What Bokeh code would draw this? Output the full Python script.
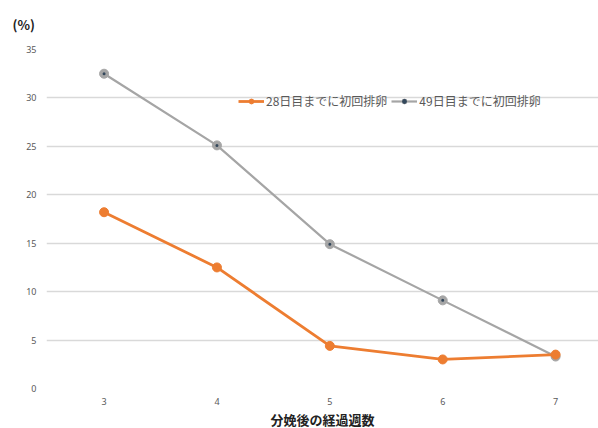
from bokeh.plotting import figure
from bokeh.models import ColumnDataSource, Legend, LegendItem, Title, FixedTicker, Range1d
from bokeh.embed import file_html
from bokeh.resources import INLINE

weeks = [3, 4, 5, 6, 7]
ovul_28 = [18.2, 12.5, 4.4, 3.0, 3.5]
ovul_49 = [32.5, 25.1, 14.9, 9.1, 3.3]
y_ticks = [0, 5, 10, 15, 20, 25, 30, 35]
label_28 = "28日目までに初回排卵"
label_49 = "49日目までに初回排卵"
x_title = "分娩後の経過週数"
y_title = "(%)"

ORANGE = "#ED7D31"
GRAY = "#A5A5A5"
JP = "Noto Sans CJK JP"

src = ColumnDataSource(dict(x=weeks, a=ovul_28, b=ovul_49))

p = figure(width=598, height=428, output_backend="svg", toolbar_location=None,
           x_range=Range1d(2.49, 7.38), y_range=Range1d(0, 35),
           min_border_left=46, min_border_right=0, min_border_top=49, min_border_bottom=37)
p.outline_line_color = None
p.background_fill_color = "white"
p.border_fill_color = "white"

p.xaxis.ticker = FixedTicker(ticks=weeks)
p.yaxis.ticker = FixedTicker(ticks=y_ticks)
for ax in (p.xaxis[0], p.yaxis[0]):
    ax.axis_line_color = None
    ax.major_tick_line_color = None
    ax.minor_tick_line_color = None
    ax.major_tick_out = 0
    ax.minor_tick_out = 0
    ax.major_label_text_color = "#595959"
    ax.major_label_text_font = "Noto Sans"
    ax.major_label_text_font_size = "9px"
p.xaxis.major_label_standoff = 9
p.yaxis.major_label_standoff = 10

p.xgrid.grid_line_color = None
p.ygrid.grid_line_color = "#d9d9d9"
p.ygrid.grid_line_width = 1.5

l49 = p.line("x", "b", source=src, line_color=GRAY, line_width=2.2)
m49 = p.scatter("x", "b", source=src, size=9, fill_color=GRAY, line_color=GRAY)
d49 = p.scatter("x", "b", source=src, size=3, fill_color="#33475b", line_color=None)
l28 = p.line("x", "a", source=src, line_color=ORANGE, line_width=2.8)
m28 = p.scatter("x", "a", source=src, size=9, fill_color=ORANGE, line_color=ORANGE)

legend = Legend(items=[LegendItem(label=label_28, renderers=[l28, m28]),
                       LegendItem(label=label_49, renderers=[l49, m49, d49])],
                orientation="horizontal", location=(192, 279),
                border_line_color=None, background_fill_alpha=0,
                label_text_font=JP, label_text_font_size="12px",
                label_text_color="#595959", glyph_width=26, glyph_height=12,
                label_standoff=2, spacing=4, padding=4, margin=0)
p.add_layout(legend, "center")

p.add_layout(Title(text=x_title, text_font=JP, text_font_size="13px",
                   text_font_style="bold", text_color="#222222",
                   align="center", standoff=0), "below")

p.add_layout(Title(text=y_title, text_font=JP, text_font_size="13px",
                   text_font_style="bold", text_color="#222222",
                   align="left", offset=-34, standoff=28, vertical_align="top"), "above")

open("out.html", "w").write(file_html(p, INLINE))
